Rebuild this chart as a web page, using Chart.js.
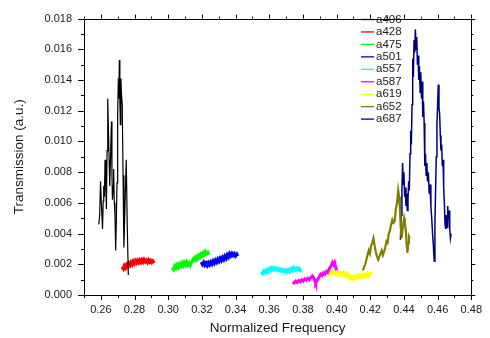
<!DOCTYPE html>
<html><head><meta charset="utf-8">
<script src="https://cdn.jsdelivr.net/npm/chart.js@4.4.0/dist/chart.umd.min.js"></script>
<style>html,body{margin:0;padding:0;background:#fff}#wrap{width:490px;height:338px}</style>
</head><body><div id="wrap"><canvas id="c" width="490" height="338"></canvas></div>
<script>
const xTickValues=[0.26,0.28,0.30,0.32,0.34,0.36,0.38,0.40,0.42,0.44,0.46,0.48];
const yTickValues=[0.000,0.002,0.004,0.006,0.008,0.010,0.012,0.014,0.016,0.018];
const seriesNames=['a406','a428','a475','a501','a557','a587','a619','a652','a687'];

const a406X=[0.2588,0.2593,0.2598,0.2604,0.2610,0.2614,0.2617,0.2621,0.2625,0.2629,0.2633,0.2637,0.2641,0.2647,0.2653,0.2658,0.2663,0.2666,0.2669,0.2673,0.2676,0.2680,0.2684,0.2688,0.2692,0.2696,0.2700,0.2704,0.2707,0.2710,0.2713,0.2716,0.2719,0.2723,0.2727,0.2732,0.2737,0.2744,0.2751,0.2757,0.2763];
const a406Y=[0.0046,0.0052,0.0074,0.0058,0.0043,0.0061,0.0071,0.0064,0.0088,0.0072,0.0056,0.0094,0.0128,0.0098,0.0071,0.0092,0.0113,0.0079,0.0062,0.0071,0.0082,0.0060,0.0052,0.0029,0.0048,0.0073,0.0118,0.0141,0.0128,0.0153,0.0126,0.0111,0.0141,0.0130,0.0124,0.0078,0.0031,0.0060,0.0088,0.0045,0.0013];

const a428X=[0.2727,0.2734,0.2740,0.2747,0.2753,0.2760,0.2766,0.2773,0.2779,0.2786,0.2792,0.2799,0.2805,0.2812,0.2818,0.2825,0.2831,0.2838,0.2844,0.2851,0.2857,0.2864,0.2870,0.2877,0.2883,0.2890,0.2896,0.2903,0.2909,0.2916];
const a428Y=[0.00185,0.00172,0.00190,0.00178,0.00196,0.00186,0.00205,0.00194,0.00212,0.00200,0.00218,0.00206,0.00222,0.00210,0.00224,0.00212,0.00226,0.00214,0.00228,0.00216,0.00230,0.00218,0.00226,0.00214,0.00228,0.00216,0.00224,0.00212,0.00220,0.00208];

const a475X=[0.3025,0.3032,0.3039,0.3046,0.3053,0.3060,0.3067,0.3074,0.3081,0.3088,0.3095,0.3102,0.3109,0.3116,0.3123,0.3130,0.3137,0.3144,0.3151,0.3158,0.3165,0.3172,0.3179,0.3186,0.3193,0.3200,0.3207,0.3214,0.3221,0.3228,0.3235,0.3240];
const a475Y=[0.00180,0.00168,0.00188,0.00176,0.00195,0.00182,0.00200,0.00188,0.00206,0.00192,0.00212,0.00198,0.00214,0.00196,0.00208,0.00194,0.00210,0.00222,0.00236,0.00228,0.00246,0.00236,0.00256,0.00246,0.00264,0.00254,0.00272,0.00262,0.00282,0.00270,0.00276,0.00262];

const a501X=[0.3197,0.3204,0.3211,0.3218,0.3225,0.3232,0.3239,0.3246,0.3253,0.3260,0.3267,0.3274,0.3281,0.3288,0.3295,0.3302,0.3309,0.3316,0.3323,0.3330,0.3337,0.3344,0.3351,0.3358,0.3365,0.3372,0.3379,0.3386,0.3393,0.3400,0.3407,0.3412];
const a501Y=[0.00215,0.00200,0.00212,0.00196,0.00208,0.00194,0.00210,0.00198,0.00214,0.00202,0.00220,0.00208,0.00226,0.00214,0.00232,0.00220,0.00238,0.00226,0.00244,0.00232,0.00252,0.00240,0.00260,0.00248,0.00268,0.00256,0.00270,0.00258,0.00268,0.00254,0.00264,0.00252];

const a557X=[0.3553,0.3561,0.3569,0.3577,0.3585,0.3593,0.3601,0.3609,0.3617,0.3625,0.3633,0.3641,0.3649,0.3657,0.3665,0.3673,0.3681,0.3689,0.3697,0.3705,0.3713,0.3721,0.3729,0.3737,0.3745,0.3753,0.3761,0.3769,0.3777,0.3785,0.3792];
const a557Y=[0.00150,0.00140,0.00156,0.00146,0.00162,0.00150,0.00170,0.00160,0.00178,0.00166,0.00176,0.00164,0.00172,0.00160,0.00168,0.00156,0.00164,0.00152,0.00162,0.00150,0.00164,0.00154,0.00170,0.00160,0.00176,0.00164,0.00174,0.00162,0.00172,0.00160,0.00166];

const a587X=[0.3739,0.3748,0.3757,0.3766,0.3775,0.3784,0.3793,0.3802,0.3811,0.3820,0.3829,0.3838,0.3847,0.3856,0.3865,0.3872,0.3876,0.3882,0.3890,0.3898,0.3906,0.3914,0.3922,0.3930,0.3938,0.3946,0.3954,0.3962,0.3970,0.3976,0.3982,0.3988,0.3994,0.4000];
const a587Y=[0.00085,0.00078,0.00090,0.00082,0.00094,0.00086,0.00098,0.00090,0.00104,0.00096,0.00108,0.00100,0.00114,0.00124,0.00110,0.00092,0.00078,0.00090,0.00104,0.00120,0.00136,0.00128,0.00144,0.00136,0.00152,0.00146,0.00166,0.00180,0.00196,0.00212,0.00200,0.00212,0.00184,0.00160];

const a619X=[0.3945,0.3953,0.3961,0.3969,0.3977,0.3985,0.3993,0.4001,0.4009,0.4017,0.4025,0.4033,0.4041,0.4049,0.4057,0.4065,0.4073,0.4081,0.4089,0.4097,0.4105,0.4113,0.4121,0.4129,0.4137,0.4145,0.4153,0.4161,0.4169,0.4177,0.4185,0.4193,0.4201,0.4209];
const a619Y=[0.00150,0.00140,0.00152,0.00142,0.00150,0.00138,0.00148,0.00136,0.00146,0.00134,0.00144,0.00132,0.00142,0.00128,0.00138,0.00122,0.00130,0.00108,0.00118,0.00106,0.00120,0.00110,0.00124,0.00114,0.00128,0.00116,0.00130,0.00120,0.00134,0.00122,0.00138,0.00126,0.00140,0.00132];

const a652X=[0.4156,0.4163,0.4170,0.4177,0.4184,0.4191,0.4198,0.4205,0.4212,0.4219,0.4226,0.4233,0.4240,0.4247,0.4254,0.4261,0.4268,0.4275,0.4282,0.4289,0.4296,0.4303,0.4310,0.4317,0.4324,0.4331,0.4338,0.4345,0.4352,0.4359,0.4366,0.4371,0.4376,0.4381,0.4386,0.4391,0.4396,0.4401,0.4406,0.4411,0.4416,0.4421,0.4426,0.4430,0.4434];
const a652Y=[0.00160,0.00180,0.00200,0.00230,0.00260,0.00290,0.00270,0.00320,0.00340,0.00370,0.00320,0.00280,0.00250,0.00230,0.00250,0.00270,0.00290,0.00260,0.00280,0.00310,0.00350,0.00340,0.00400,0.00420,0.00460,0.00490,0.00470,0.00480,0.00560,0.00600,0.00680,0.00640,0.00560,0.00440,0.00370,0.00420,0.00460,0.00500,0.00470,0.00420,0.00330,0.00275,0.00340,0.00380,0.00370];

const a687X=[0.4379,0.4384,0.4388,0.4392,0.4396,0.4400,0.4404,0.4408,0.4412,0.4416,0.4420,0.4424,0.4428,0.4432,0.4436,0.4440,0.4444,0.4448,0.4452,0.4456,0.4460,0.4464,0.4468,0.4472,0.4476,0.4480,0.4484,0.4488,0.4492,0.4496,0.4500,0.4504,0.4508,0.4512,0.4516,0.4520,0.4524,0.4528,0.4532,0.4536,0.4540,0.4545,0.4550,0.4555,0.4560,0.4565,0.4570,0.4575,0.4580,0.4584,0.4588,0.4592,0.4596,0.4600,0.4604,0.4608,0.4612,0.4616,0.4620,0.4624,0.4628,0.4632,0.4636,0.4640,0.4644,0.4648,0.4652,0.4656,0.4660,0.4664,0.4668,0.4672,0.4676,0.4680];
const a687Y=[0.0036,0.0052,0.0068,0.0086,0.0072,0.0080,0.0064,0.0070,0.0058,0.0066,0.0055,0.0062,0.0074,0.0068,0.0092,0.0107,0.0098,0.0124,0.0154,0.0142,0.0166,0.0158,0.0173,0.0160,0.0168,0.0150,0.0156,0.0140,0.0149,0.0132,0.0145,0.0128,0.0139,0.0116,0.0126,0.0112,0.0084,0.0092,0.0078,0.0086,0.0074,0.0080,0.0066,0.0072,0.0058,0.0050,0.0040,0.0032,0.0022,0.0046,0.0068,0.0090,0.0111,0.0124,0.0137,0.0122,0.0118,0.0104,0.0094,0.0098,0.0084,0.0088,0.0070,0.0060,0.0046,0.0043,0.0052,0.0044,0.0058,0.0050,0.0055,0.0043,0.0037,0.0040];

const seriesX=[a406X,a428X,a475X,a501X,a557X,a587X,a619X,a652X,a687X];
const seriesY=[a406Y,a428Y,a475Y,a501Y,a557Y,a587Y,a619Y,a652Y,a687Y];
const colors=['#000000','#ff0000','#00ff00','#0000ff','#00ffff','#ff00ff','#ffff00','#808000','#000080'];
const widths=[1.2,3.4,3.4,3.4,3.4,3.0,3.4,2.2,1.5];

const FONT='"Liberation Sans", Arial, sans-serif';
const TXT='#1a1a1a';

const datasets=seriesNames.map((n,i)=>({
  label:n,
  data:seriesX[i].map((x,j)=>({x:x,y:seriesY[i][j]})),
  borderColor:colors[i],
  backgroundColor:colors[i],
  borderWidth:widths[i],
  pointRadius:0,
  tension:0,
  fill:false
}));

const frameTicks={
  id:'frameTicks',
  afterDraw(chart){
    const {ctx,chartArea:a,scales:{x,y}}=chart;
    ctx.save();
    ctx.strokeStyle='#000';
    ctx.lineWidth=1;
    ctx.beginPath();
    ctx.rect(Math.round(a.left)+0.5,Math.round(a.top)+0.5,Math.round(a.right-a.left),Math.round(a.bottom-a.top));
    ctx.stroke();
    ctx.beginPath();
    for(let k=25;k<=48;k++){
      const v=k/100;
      const major=xTickValues.some(t=>Math.abs(t-v)<1e-6);
      const px=Math.round(x.getPixelForValue(v))+0.5;
      const L=major?5:3;
      ctx.moveTo(px,a.bottom);ctx.lineTo(px,a.bottom+L);
      ctx.moveTo(px,a.top);ctx.lineTo(px,a.top-(major?4:2));
    }
    for(let k=0;k<=18;k++){
      const v=k/1000;
      const major=yTickValues.some(t=>Math.abs(t-v)<1e-9);
      const py=Math.round(y.getPixelForValue(v))+0.5;
      const L=major?6:3;
      ctx.moveTo(a.left,py);ctx.lineTo(a.left-L,py);
      ctx.moveTo(a.right,py);ctx.lineTo(a.right+(major?4:2),py);
    }
    ctx.stroke();
    // legend
    ctx.font='11.5px '+FONT;
    ctx.textBaseline='middle';
    ctx.textAlign='left';
    chart.data.datasets.forEach((d,i)=>{
      const ly=19.5+i*12.45;
      ctx.strokeStyle=d.borderColor;
      ctx.lineWidth=1.3;
      ctx.beginPath();ctx.moveTo(361,ly);ctx.lineTo(374,ly);ctx.stroke();
      ctx.fillStyle=TXT;
      ctx.fillText(d.label,376,ly);
    });
    ctx.restore();
  }
};

new Chart(document.getElementById('c'),{
  type:'line',
  data:{datasets},
  options:{
    responsive:false,
    animation:false,
    events:[],
    layout:{padding:{top:11,right:14,left:0,bottom:0}},
    plugins:{legend:{display:false},tooltip:{enabled:false}},
    scales:{
      x:{
        type:'linear',min:0.25,max:0.48,
        afterBuildTicks:s=>{s.ticks=xTickValues.map(v=>({value:v}));},
        afterFit:s=>{s.height=43;},
        grid:{display:false,drawTicks:false},
        border:{display:false},
        ticks:{padding:8,color:TXT,font:{family:FONT,size:11},callback:v=>v.toFixed(2),maxRotation:0,autoSkip:false},
        title:{display:true,text:'Normalized Frequency',color:TXT,font:{family:FONT,size:13.5},padding:{top:0,bottom:2}}
      },
      y:{
        type:'linear',min:0,max:0.018,
        afterBuildTicks:s=>{s.ticks=yTickValues.map(v=>({value:v}));},
        afterFit:s=>{s.width=84;},
        grid:{display:false,drawTicks:false},
        border:{display:false},
        ticks:{padding:12,color:TXT,font:{family:FONT,size:11},callback:v=>v.toFixed(3),autoSkip:false},
        title:{display:true,text:'Transmission (a.u.)',color:TXT,font:{family:FONT,size:13.5},padding:{top:11,bottom:0}}
      }
    }
  },
  plugins:[frameTicks]
});
</script></body></html>
